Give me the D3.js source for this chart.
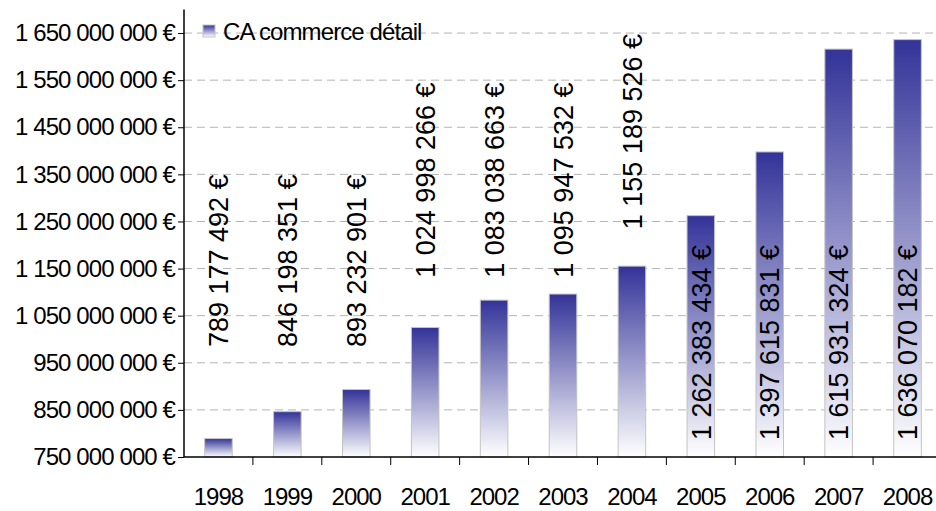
<!DOCTYPE html>
<html>
<head>
<meta charset="utf-8">
<script src="https://cdn.jsdelivr.net/npm/d3@7"></script>
<style>
	body { margin: 0; background: #fff; }
	text { font-family: "Liberation Sans", Arial, sans-serif; fill: #000; }
	.grid line { stroke: #b4b4b4; stroke-dasharray: 8 5; }
	.tick-y text { font-size: 24px; letter-spacing: -0.9px; }
	.tick-x text { font-size: 24px; letter-spacing: -1px; }
	.val { font-size: 27px; }
</style>
</head>
<body>
<svg id="chart" width="936" height="511"></svg>
<script>
// CA commerce détail, par année
var years = ["1998", "1999", "2000", "2001", "2002", "2003", "2004", "2005", "2006", "2007", "2008"];
var sales = [789177492, 846198351, 893232901, 1024998266, 1083038663, 1095947532,
             1155189526, 1262383434, 1397615831, 1615931324, 1636070182];
var yTicks = [750e6, 850e6, 950e6, 1050e6, 1150e6, 1250e6, 1350e6, 1450e6, 1550e6, 1650e6];
var seriesName = "CA commerce détail";

document.addEventListener("DOMContentLoaded", init)

function init() {
	var svg = d3.select("#chart");
	var fr = d3.formatLocale({decimal: ",", thousands: " ", grouping: [3], currency: ["", " €"]});
	var fmt = fr.format("$,.0f");

	var left = 184, right = 942, top = 9.5, bottom = 457;

	var x = d3.scaleBand()
	          .domain(years)
	          .range([left, right])
	          .paddingInner(0.6)
	          .paddingOuter(0.3);
	var y = d3.scaleLinear()
	          .domain([750e6, 1700e6])
	          .range([bottom, top]);

	var defs = svg.append("defs");
	var grad = defs.append("linearGradient")
	               .attr("id", "barfill")
	               .attr("x1", 0).attr("y1", 0)
	               .attr("x2", 0).attr("y2", 1);
	grad.append("stop").attr("offset", "0%").attr("stop-color", "#333399");
	grad.append("stop").attr("offset", "100%").attr("stop-color", "#ffffff");

	// gridlines
	svg.append("g")
	   .attr("class", "grid")
	   .selectAll("line")
	   .data(yTicks.slice(1))
	   .enter()
	   .append("line")
	   .attr("x1", left).attr("x2", right)
	   .attr("y1", d=>y(d)).attr("y2", d=>y(d));

	// bars
	svg.append("g")
	   .selectAll("rect")
	   .data(sales)
	   .enter()
	   .append("rect")
	   .attr("x", (d,i)=>x(years[i]))
	   .attr("width", x.bandwidth())
	   .attr("y", d=>y(d))
	   .attr("height", d=>bottom - y(d))
	   .style("fill", "url(#barfill)")
	   .style("stroke", "#c4c4c4")
	   .style("stroke-width", 1);

	// y axis
	var yAxis = d3.axisLeft(y)
	              .tickValues(yTicks)
	              .tickSize(6)
	              .tickPadding(3)
	              .tickFormat(fmt);
	var gy = svg.append("g")
	            .attr("class", "tick-y")
	            .attr("transform", "translate(" + left + ",0)")
	            .call(yAxis);
	gy.select(".domain").attr("d", "M0," + top + "V" + bottom).style("stroke", "#000").style("stroke-width", 1.5);
	gy.selectAll(".tick line").style("stroke", "#000");

	// x axis: ticks between categories
	var bounds = years.map((d,i)=>left + i * (right - left) / years.length);
	var gx = svg.append("g").attr("class", "tick-x");
	gx.append("line")
	  .attr("x1", left).attr("x2", right)
	  .attr("y1", bottom).attr("y2", bottom)
	  .style("stroke", "#000").style("stroke-width", 1.5);
	gx.selectAll(".xt")
	  .data(bounds.slice(1))
	  .enter()
	  .append("line")
	  .attr("x1", d=>d).attr("x2", d=>d)
	  .attr("y1", bottom).attr("y2", bottom + 8)
	  .style("stroke", "#000");
	gx.selectAll("text")
	  .data(years)
	  .enter()
	  .append("text")
	  .attr("x", d=>x(d) + x.bandwidth() / 2)
	  .attr("y", 505)
	  .attr("text-anchor", "middle")
	  .text(d=>d);

	// value labels (placed as in the original chart)
	var labelEnd = [1350e6, 1350e6, 1350e6, 1545e6, 1545e6, 1545e6, 1648e6];
	var insideBase = 786e6;
	svg.append("g")
	   .selectAll("text")
	   .data(sales)
	   .enter()
	   .append("text")
	   .attr("class", "val")
	   .attr("transform", (d,i)=>{
	   	   let cx = x(years[i]) + x.bandwidth() / 2;
	   	   let py = i < labelEnd.length ? y(labelEnd[i]) : y(insideBase);
	   	   return "translate(" + cx + "," + py + ") rotate(-90)";
	   })
	   .attr("dy", "0.36em")
	   .attr("text-anchor", (d,i)=>i < labelEnd.length ? "end" : "start")
	   .text(d=>fmt(d));

	// legend
	var lg = svg.append("g").attr("transform", "translate(203,25)");
	lg.append("rect")
	  .attr("width", 12).attr("height", 12)
	  .style("fill", "url(#barfill)")
	  .style("stroke", "#c4c4c4");
	lg.append("text")
	  .attr("x", 20).attr("y", 15)
	  .style("font-size", "24px")
	  .style("letter-spacing", "-0.9px")
	  .text(seriesName);
}
</script>
</body>
</html>
